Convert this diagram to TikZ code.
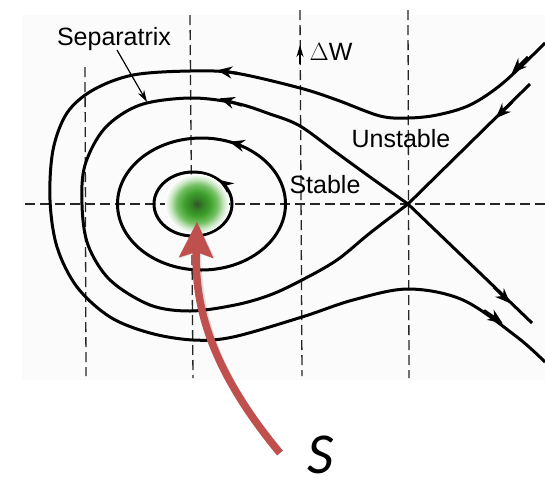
\documentclass[tikz,border=0pt]{standalone}
\usepackage{fontspec}
\setmainfont{Liberation Sans}
\newfontfamily\calibfont{Carlito}
\usetikzlibrary{arrows.meta,decorations.markings}
\definecolor{arrowred}{RGB}{192,80,77}
\definecolor{scanbg}{RGB}{251,251,251}
\definecolor{gA}{RGB}{50,80,42}
\definecolor{gB}{RGB}{52,125,38}
\definecolor{gC}{RGB}{62,160,45}
\definecolor{gD}{RGB}{115,192,98}
\definecolor{gE}{RGB}{205,232,200}
\pgfdeclareradialshading{greenblob}{\pgfpoint{0bp}{0bp}}{color(0bp)=(gA); color(4bp)=(gB); color(10bp)=(gC); color(16bp)=(gD); color(21bp)=(gE); color(25bp)=(white); color(50bp)=(white)}
\tikzset{
  orbit/.style={line width=3pt, line join=round},
  gridline/.style={line width=1.3pt, dash pattern=on 10pt off 5pt, black!85},
  lbl/.style={font=\fontsize{25}{25}\selectfont, inner sep=0pt, anchor=base},
  flowtip/.style={line width=3pt, -{Stealth[length=15pt,width=12pt]}, shorten >=-13pt},
  tipmark/.style={postaction={decorate, decoration={markings,
      mark=at position #1 with {\arrow{Stealth[length=15pt,width=12pt]}}}}},
}
\begin{document}
\begin{tikzpicture}[x=1pt,y=-1pt]
\useasboundingbox (0,0) rectangle (545,483);
\fill[scanbg] (22,15) rectangle (545,380);

% coordinates
\coordinate (X) at (408,204);
\coordinate (O) at (197,204);

% dashed grid
\draw[gridline] (25,204) -- (545,204);
\draw[gridline] (85,67) -- (86,376);
\draw[gridline] (190,15) -- (193,378);
\draw[gridline] (300,10) -- (302,376);
\draw[gridline] (408,10) -- (409,378);

% Delta W arrow
\coordinate (dwtail) at (300,64);
\coordinate (dwtip) at (300,45);
\draw[line width=1.3pt, -{Stealth[length=12pt,width=7pt]}] (dwtail) -- (dwtip);
\node[lbl] (dw) at (331,60) {$\Delta$W};

% stable orbits
\draw[orbit, tipmark=0.13] (232,204) arc[start angle=0, end angle=-360, x radius=39, y radius=32];
\draw[orbit, tipmark=0.19] (285.5,204) arc[start angle=0, end angle=-360, x radius=84, y radius=66];

% separatrix loop
\draw[orbit] plot[smooth, tension=0.55] coordinates {
 (408,204) (370,177) (337,153) (300,126) (270,114) (235,103) (190,98) (140,105)
 (105,128) (85,165) (82,205) (88,245) (110,280) (150,305) (190,311) (235,305)
 (270,295) (302,280) (337,260) (370,233) (408,204)};
\coordinate (s1a) at (242,105.3);
\coordinate (s1b) at (232,102.2);
\draw[flowtip] (s1a) -- (s1b);

% separatrix straight branches
\coordinate (ur) at (530,84);
\coordinate (lr) at (532,323);
\draw[orbit] (ur) -- (X);
\draw[orbit] (X) -- (lr);
\coordinate (u1a) at (512,102);
\coordinate (u1b) at (505,109);
\draw[flowtip] (u1a) -- (u1b);
\coordinate (l1a) at (494,287);
\coordinate (l1b) at (501,294);
\draw[flowtip] (l1a) -- (l1b);

% outer open trajectory
\draw[orbit] plot[smooth, tension=0.55] coordinates {
 (545,43) (503,83) (470,105) (437,115) (408,118) (380,116) (337,100) (300,88)
 (235,73) (190,71) (133,75) (93,90) (67,113) (53,150) (50,200) (57,247) (77,287)
 (110,317) (150,333) (193,340) (233,337) (302,317) (353,300) (408,289) (463,300)
 (517,337) (545,362)};
\coordinate (o1a) at (528,57);
\coordinate (o1b) at (521,64);
\draw[flowtip] (o1a) -- (o1b);
\coordinate (o2a) at (238,73.4);
\coordinate (o2b) at (230,72.2);
\draw[flowtip] (o2a) -- (o2b);
\coordinate (o3a) at (484,310.5);
\coordinate (o3b) at (492,316);
\draw[flowtip] (o3a) -- (o3b);

% labels
\node[lbl] (sep) at (114,45) {Separatrix};
\coordinate (sepfrom) at (117,50);
\coordinate (septip) at (147,102);
\draw[line width=1.2pt, -{Stealth[length=12pt,width=7pt]}] (sepfrom) -- (septip);
\node[lbl] (unst) at (401,147) {Unstable};
\node[lbl] (stab) at (325,193) {Stable};

% green blob
\shade[shading=greenblob] (O) ellipse[x radius=32, y radius=30];
\node[inner sep=0pt, minimum size=1pt] (blob) at (O) {};

% red arrow with soft shadow
\coordinate (tail) at (280,453);
\coordinate (tip) at (197,222);
\draw[line width=7.5pt, black, opacity=0.12, shift={(3,4)}, -{Stealth[length=36pt,width=35pt,inset=6pt,line width=0pt]}]
  (tail) .. controls (206,364) and (195,300) .. (tip);
\draw[line width=7.5pt, arrowred, -{Stealth[length=36pt,width=35pt,inset=6pt,line width=0pt]}]
  (tail) .. controls (206,364) and (195,300) .. (tip);

\node[font=\calibfont\itshape\fontsize{58}{58}\selectfont, inner sep=0pt, anchor=base] (S) at (321,473) {S};
\end{tikzpicture}
\end{document}
